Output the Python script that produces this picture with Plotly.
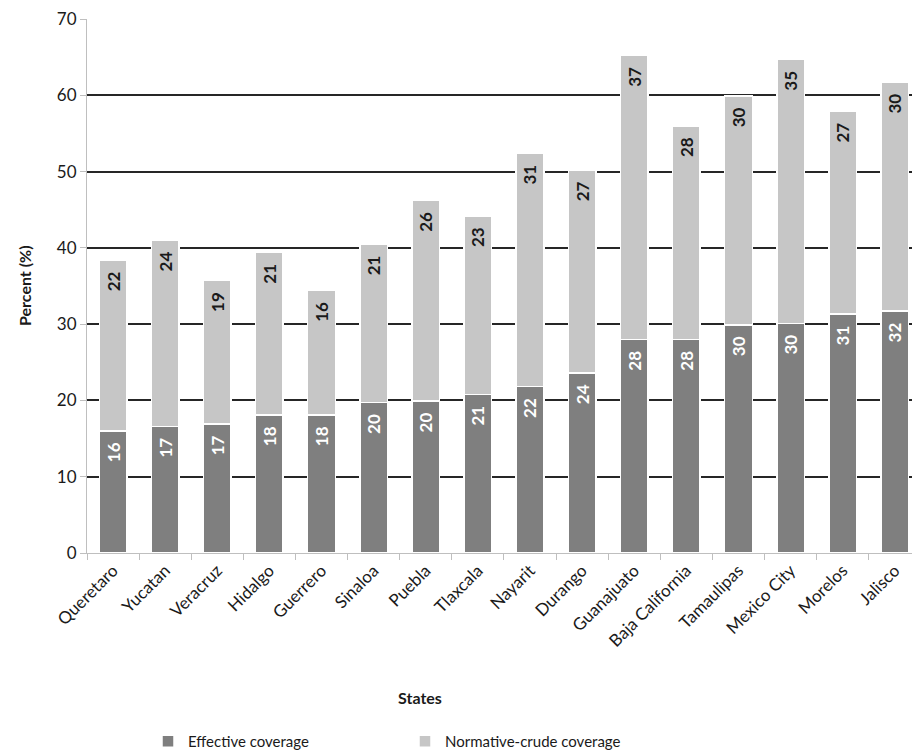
import plotly.graph_objects as go

states = ["Queretaro", "Yucatan", "Veracruz", "Hidalgo", "Guerrero", "Sinaloa",
          "Puebla", "Tlaxcala", "Nayarit", "Durango", "Guanajuato",
          "Baja California", "Tamaulipas", "Mexico City", "Morelos", "Jalisco"]
effective = [16.0, 16.6, 16.9, 18.1, 18.1, 19.7, 19.9, 20.8, 21.8, 23.6,
             28.0, 28.0, 29.9, 30.1, 31.3, 31.7]
normative_crude = [22.4, 24.4, 18.8, 21.3, 16.3, 20.8, 26.3, 23.4, 30.6, 26.6,
                   37.2, 28.0, 30.0, 34.6, 26.6, 30.0]
y_ticks = [0, 10, 20, 30, 40, 50, 60, 70]

FONT = "Lato, 'Open Sans', sans-serif"
DARK = "#7f7f7f"
LIGHT = "#c6c6c6"
INK = "#1a1a1a"

# plot area in pixels
L, T, B, W, H = 87, 19, 203, 912, 756
PW, PH = W - L, H - T - B


def px_x(x):
    return (x - L) / PW


def px_y(y):
    return (H - B - y) / PH


fig = go.Figure()
fig.add_trace(go.Bar(
    x=states, y=effective, name="Effective coverage",
    marker=dict(color=DARK, line=dict(color="white", width=1.5)),
    texttemplate="%{y:.0f}\u2002", textposition="inside", insidetextanchor="end",
    textangle=-90, constraintext="none",
    textfont=dict(family=FONT, size=17, color="white", weight="bold"),
    hoverinfo="skip",
))
fig.add_trace(go.Bar(
    x=states, y=normative_crude, name="Normative-crude coverage",
    marker=dict(color=LIGHT, line=dict(color="white", width=1.5)),
    texttemplate="%{y:.0f}\u2002", textposition="inside", insidetextanchor="end",
    textangle=-90, constraintext="none",
    textfont=dict(family=FONT, size=17, color=INK, weight="bold"),
    hoverinfo="skip",
))

fig.update_layout(
    width=W, height=H,
    margin=dict(l=L, r=0, t=T, b=B, autoexpand=False),
    barmode="stack", bargap=0.47,
    plot_bgcolor="white", paper_bgcolor="white",
    font=dict(family=FONT, size=16, color=INK),
    showlegend=True,
    legend=dict(orientation="h", x=px_x(148), xanchor="left",
                y=px_y(725), yanchor="top",
                entrywidth=212, entrywidthmode="pixels",
                font=dict(family=FONT, size=15, color=INK),
                traceorder="normal"),
    annotations=[
        dict(text="<b>States</b>", x=px_x(420), xref="paper", xanchor="center",
             y=px_y(697), yref="paper", yanchor="middle",
             showarrow=False, font=dict(family=FONT, size=16, color=INK)),
        dict(text="<b>Percent (%)</b>", x=px_x(24), xref="paper", xanchor="center",
             y=px_y(285), yref="paper", yanchor="middle",
             textangle=-90, showarrow=False,
             font=dict(family=FONT, size=16, color=INK)),
    ],
)

fig.update_xaxes(
    range=[-0.5, 15.33], tickangle=-45, tickson="boundaries", automargin=False,
    ticks="outside", ticklen=6, tickcolor="#bfbfbf",
    showline=True, linecolor="#bfbfbf", linewidth=1,
    showgrid=False, tickfont=dict(family=FONT, size=17, color=INK),
)
fig.update_yaxes(
    range=[0, 70], tickvals=y_ticks, automargin=False,
    ticks="outside", ticklen=6, tickcolor="#bfbfbf",
    showline=True, linecolor="#bfbfbf", linewidth=1,
    showgrid=True, gridcolor="#262626", gridwidth=1.5,
    zeroline=False, tickfont=dict(family=FONT, size=17, color=INK),
)

fig.write_html("out.html")
